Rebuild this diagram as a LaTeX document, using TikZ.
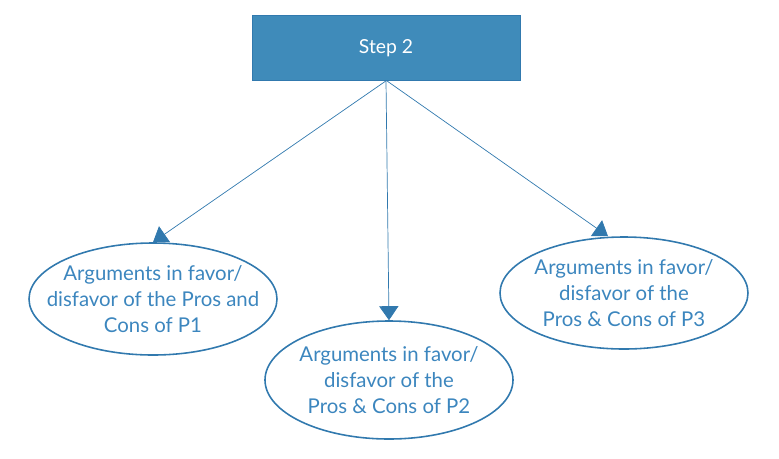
\documentclass[tikz,border=0pt]{standalone}
\usepackage{fontspec}
\setmainfont{Lato}
\usetikzlibrary{shapes.geometric,arrows.meta}
\definecolor{stepblue}{HTML}{3F8BBA}
\definecolor{edgeblue}{HTML}{3179AE}
\definecolor{textblue}{HTML}{3C86BE}
\begin{document}
\begin{tikzpicture}[x=0.02cm, y=-0.02cm,
    stepbox/.style={rectangle,draw=edgeblue,fill=stepblue,text=white,minimum width=268*0.02cm,minimum height=65*0.02cm,font=\fontsize{11}{13}\selectfont},
    arg/.style={ellipse,draw=edgeblue,line width=0.9pt,text=textblue,minimum width=248*0.02cm,minimum height=112*0.02cm,inner xsep=-14pt,inner ysep=-4pt,align=center,font=\fontsize{11.6}{14.7}\selectfont},
    link/.style={draw=edgeblue,-{Triangle[length=8pt,width=11pt]}}]
            \useasboundingbox (0,0) rectangle (779,458);
            % step box
            \node[stepbox] (s) at (386,48) {Step 2};
            % the three arguments
            \node[arg] (p1) at (153,299) {Arguments in favor/\\disfavor of the Pros and\\Cons of P1};
            \node[arg,minimum height=118*0.02cm] (p2) at (389,380) {Arguments in favor/\\disfavor of the\\Pros \& Cons of P2};
            \node[arg] (p3) at (624,293) {Arguments in favor/\\disfavor of the\\Pros \& Cons of P3};
            % links
            \draw[link] (s.south) -- (p1.north);
            \draw[link] (s.south) -- (p2.north);
            \draw[link] ([xshift=0.5pt]s.south) -- (p3.north -| 608,0);
        \end{tikzpicture}
\end{document}
